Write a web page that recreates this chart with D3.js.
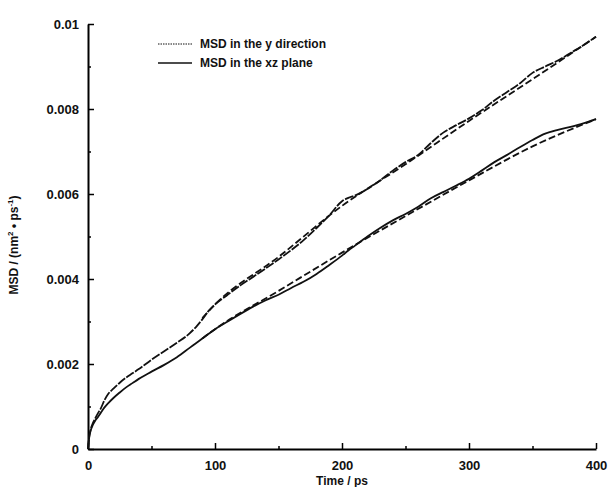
<!DOCTYPE html>
<html>
<head>
<meta charset="utf-8">
<script src="https://cdn.jsdelivr.net/npm/d3@7"></script>
<style>
  body { margin: 0; background: #fff; }
  svg text { font-family: "Liberation Sans", Arial, sans-serif; font-weight: bold; fill: #111; }
</style>
</head>
<body>
<svg id="chart" width="609" height="487"></svg>
<script>
// time (ps) for the simulated curves
var timeData = [0,1,2,4,6,8,10,13,16,20,25,30,35,40,50,60,70,80,85,90,95,100,110,120,130,140,150,160,170,180,190,200,205,210,220,230,240,250,260,270,280,290,300,310,320,330,340,350,360,370,380,390,400];
// MSD in the y direction
var msdY = [0,0.00030,0.00045,0.00062,0.00074,0.00085,0.00095,0.00115,0.00130,0.00142,0.00156,0.00168,0.00178,0.00188,0.00210,0.00230,0.00250,0.00272,0.00287,0.00305,0.00325,0.00340,0.00363,0.00385,0.00405,0.00425,0.00446,0.00468,0.00492,0.00520,0.00550,0.00583,0.00591,0.00596,0.00612,0.00632,0.00655,0.00675,0.00692,0.00720,0.00745,0.00762,0.00778,0.00797,0.00820,0.00840,0.00860,0.00885,0.00900,0.00914,0.00932,0.00950,0.00970];
// MSD in the xz plane
var msdXZ = [0,0.00028,0.00042,0.00058,0.00068,0.00076,0.00085,0.00098,0.00108,0.00120,0.00133,0.00145,0.00155,0.00165,0.00182,0.00198,0.00216,0.00238,0.00249,0.00260,0.00271,0.00282,0.00300,0.00318,0.00335,0.00350,0.00363,0.00379,0.00394,0.00412,0.00433,0.00455,0.00467,0.00478,0.00500,0.00520,0.00538,0.00553,0.00570,0.00590,0.00605,0.00620,0.00636,0.00655,0.00675,0.00692,0.00710,0.00727,0.00742,0.00751,0.00758,0.00766,0.00776];

// dashed fits
var fitTimeY = [90,100,150,200,250,300,350,400];
var fitY = [0.00308,0.0034,0.00452,0.00572,0.0067,0.00772,0.0087,0.0097];
var fitTimeXZ = [90,100,150,200,250,300,350,400];
var fitXZ = [0.0026,0.00282,0.00372,0.00462,0.00548,0.00632,0.00712,0.00776];

var xTicks = [0,100,200,300,400];
var yTicks = [0,0.002,0.004,0.006,0.008,0.01];
var yTickLabels = ["0","0.002","0.004","0.006","0.008","0.01"];
var legendLabels = ["MSD in the y direction", "MSD in the xz plane"];

var margin = { top: 24, right: 13, bottom: 38, left: 88 },
    width = 609 - margin.left - margin.right,
    height = 487 - margin.top - margin.bottom;

var svg = d3.select("#chart")
    .append("g")
    .attr("transform", `translate(${margin.left},${margin.top})`);

var x = d3.scaleLinear().domain([0, 400]).range([0, width]);
var y = d3.scaleLinear().domain([0, 0.01]).range([height, 0]);

// minor ticks
svg.append("g")
    .attr("transform", `translate(0,${height})`)
    .call(d3.axisBottom(x).tickValues([50,150,250,350]).tickSize(-3).tickFormat(""))
    .call(g => g.select(".domain").remove());
svg.append("g")
    .call(d3.axisLeft(y).tickValues([0.001,0.003,0.005,0.007,0.009]).tickSize(-3).tickFormat(""))
    .call(g => g.select(".domain").remove());

// main axes
var xAxis = svg.append("g")
    .attr("transform", `translate(0,${height})`)
    .call(d3.axisBottom(x).tickValues(xTicks).tickSize(-6).tickSizeOuter(0).tickPadding(12));
var yAxis = svg.append("g")
    .call(d3.axisLeft(y).tickValues(yTicks).tickSize(-6).tickSizeOuter(0).tickPadding(9)
        .tickFormat((d, i) => yTickLabels[i]));

[xAxis, yAxis].forEach(function(a) {
    a.select(".domain").attr("stroke-width", 2);
    a.selectAll("text").style("font-size", "13px");
});
svg.selectAll(".tick line").attr("stroke-width", 1.5);

var line = d3.line()
    .x(d => x(d[0]))
    .y(d => y(d[1]))
    .curve(d3.curveMonotoneX);

svg.append("path")
    .datum(d3.zip(timeData, msdXZ))
    .attr("fill", "none").attr("stroke", "#111").attr("stroke-width", 1.8)
    .attr("d", line);
svg.append("path")
    .datum(d3.zip(timeData, msdY))
    .attr("fill", "none").attr("stroke", "#111").attr("stroke-width", 1.8)
    .attr("stroke-dasharray", "9,1.5")
    .attr("d", line);

svg.append("path")
    .datum(d3.zip(fitTimeY, fitY))
    .attr("fill", "none").attr("stroke", "#111").attr("stroke-width", 1.8)
    .attr("stroke-dasharray", "7,3")
    .attr("d", line);
svg.append("path")
    .datum(d3.zip(fitTimeXZ, fitXZ))
    .attr("fill", "none").attr("stroke", "#111").attr("stroke-width", 1.8)
    .attr("stroke-dasharray", "7,3")
    .attr("d", line);

// legend
var legend = svg.append("g").attr("transform", "translate(70,20)");
legendLabels.forEach(function(lbl, i) {
    legend.append("line")
        .attr("x1", 0).attr("x2", 34)
        .attr("y1", i * 19).attr("y2", i * 19)
        .attr("stroke", "#111")
        .attr("stroke-width", i == 0 ? 1 : 1.5)
        .attr("stroke-dasharray", i == 0 ? "1.5,1" : null);
    legend.append("text")
        .attr("x", 42).attr("y", i * 19 + 4)
        .style("font-size", "12px")
        .text(lbl);
});

// axis titles
svg.append("text")
    .attr("x", x(200)).attr("y", height + 36)
    .attr("text-anchor", "middle")
    .style("font-size", "12px")
    .text("Time / ps");

var yTitle = svg.append("text")
    .attr("transform", `translate(-70,${y(0.0048)}) rotate(-90)`)
    .attr("text-anchor", "middle")
    .style("font-size", "12px");
yTitle.append("tspan").text("MSD / (nm");
yTitle.append("tspan").attr("dy", -5).style("font-size", "8px").text("2");
yTitle.append("tspan").attr("dy", 5).text(" \u2022 ps");
yTitle.append("tspan").attr("dy", -5).style("font-size", "8px").text("-1");
yTitle.append("tspan").attr("dy", 5).text(")");
</script>
</body>
</html>
